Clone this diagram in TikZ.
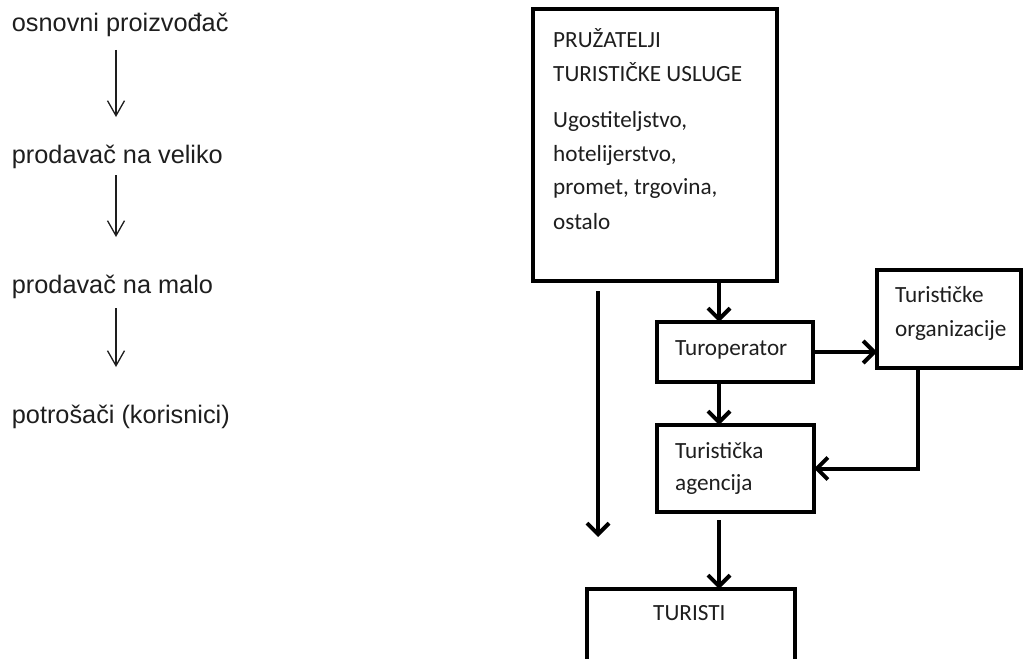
\documentclass[tikz,border=0pt]{standalone}
\usepackage{fontspec}
\setmainfont{Carlito}
\newfontfamily\arialf{Liberation Sans}
\usetikzlibrary{arrows.meta}
\definecolor{ink}{HTML}{1E1E1E}
\tikzset{
  lefttxt/.style={anchor=base west, inner sep=0pt, font=\arialf\fontsize{25.3}{30}\selectfont, text=ink},
  boxtxt/.style={anchor=base west, inner sep=0pt, font=\fontsize{23.2}{27}\selectfont, text=ink},
  thinarrow/.style={draw=ink, line width=1.3pt, -{Straight Barb[length=15pt,width=17pt,line width=1.3pt]}},
  thickarrow/.style={draw=black, line width=4pt, -{Straight Barb[length=11pt,width=22pt,line width=4pt]}},
  boxnode/.style={draw=black, line width=4pt, inner sep=0pt, outer sep=0pt, rectangle}
}
\begin{document}
\begin{tikzpicture}[x=1pt,y=-1pt]
\useasboundingbox (0,0) rectangle (1024,658);
\clip (0,0) rectangle (1024,658);
% left column
\node[lefttxt] (l1) at (11.7,32) {osnovni proizvođač};
\node[lefttxt] (l2) at (11.7,163) {prodavač na veliko};
\node[lefttxt] (l3) at (11.7,293) {prodavač na malo};
\node[lefttxt] (l4) at (11.7,423) {potrošači (korisnici)};
\coordinate (a1s) at (116,50);  \coordinate (a1e) at (116,117);
\coordinate (a2s) at (116,175); \coordinate (a2e) at (116,237);
\coordinate (a3s) at (116,308); \coordinate (a3e) at (116,367);
\draw[thinarrow] (a1s) -- (a1e);
\draw[thinarrow] (a2s) -- (a2e);
\draw[thinarrow] (a3s) -- (a3e);
% right diagram boxes
\node[boxnode, minimum width=244pt, minimum height=272pt] (big) at (655,145) {};
\node[boxnode, minimum width=156pt, minimum height=60pt] (turop) at (735,352) {};
\node[boxnode, minimum width=157pt, minimum height=87pt] (agen) at (735.5,468.5) {};
\node[boxnode, minimum width=144pt, minimum height=98pt] (org) at (949,319) {};
\node[boxnode, minimum width=208pt, minimum height=112pt] (tur) at (691,645) {};
% texts
\node[boxtxt] (p1) at (553,48) {PRUŽATELJI};
\node[boxtxt] (p2) at (553,82) {TURISTIČKE USLUGE};
\node[boxtxt] (p3) at (553,128) {Ugostiteljstvo,};
\node[boxtxt] (p4) at (553,161) {hotelijerstvo,};
\node[boxtxt] (p5) at (553,194) {promet, trgovina,};
\node[boxtxt] (p6) at (553,229) {ostalo};
\node[boxtxt] (tt) at (675,355) {Turoperator};
\node[boxtxt] (ag1) at (675,458) {Turistička};
\node[boxtxt] (ag2) at (675,490) {agencija};
\node[boxtxt] (or1) at (895,302) {Turističke};
\node[boxtxt] (or2) at (895,336) {organizacije};
\node[boxtxt] (tu) at (653,620) {TURISTI};
% connectors
\coordinate (ax) at (719,0);
\coordinate (ox) at (918,0);
\coordinate (ls) at (598,291);
\coordinate (le) at (598,537);
\coordinate (ags) at (719,520);
\draw[thickarrow] (big.south -| ax) -- (turop.north -| ax);
\draw[thickarrow] (turop.south -| ax) -- (agen.north -| ax);
\draw[thickarrow] (ags) -- (tur.north -| ax);
\draw[thickarrow] (turop.east) -- (turop.east -| org.west);
\draw[thickarrow] (org.south -| ox) |- (agen.east);
\draw[thickarrow] (ls) -- (le);
\end{tikzpicture}
\end{document}
